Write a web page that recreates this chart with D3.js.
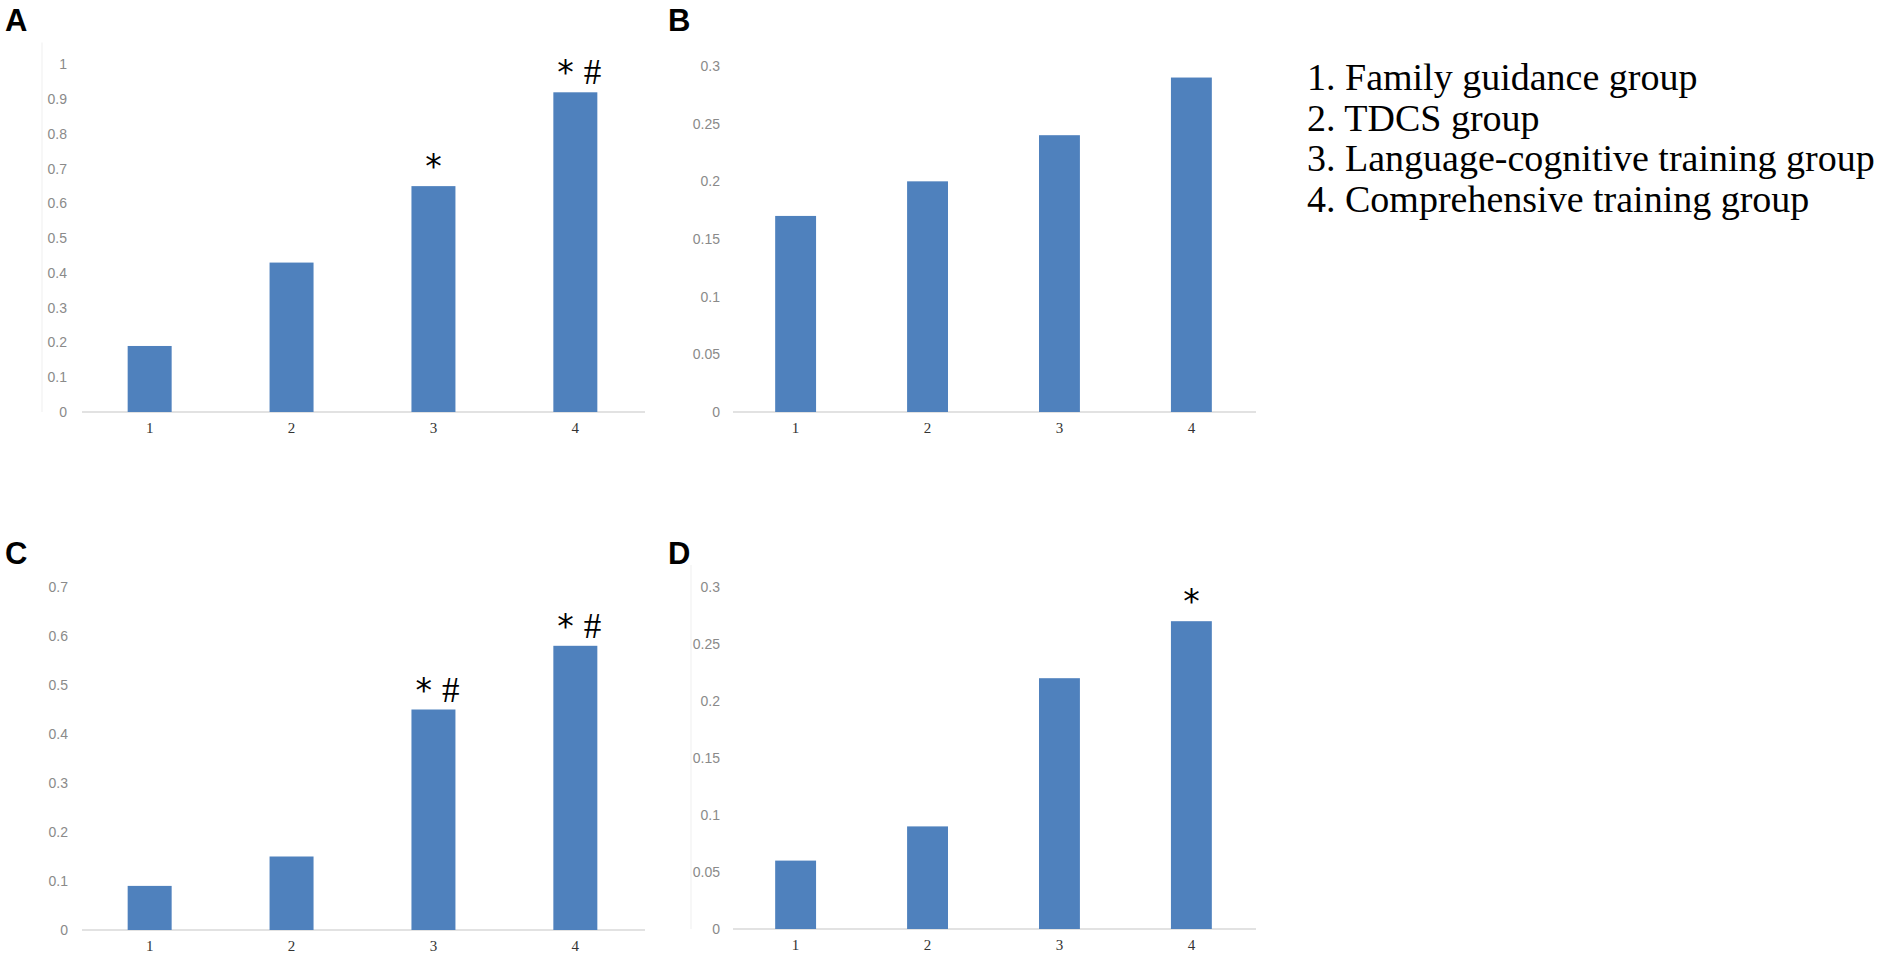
<!DOCTYPE html>
<html>
<head>
<meta charset="utf-8">
<script src="https://cdn.jsdelivr.net/npm/d3@7"></script>
<style>
  body { margin: 0; background: #fff; }
  svg { display: block; }
</style>
</head>
<body>
<script>
const WIDTH = 1902;
const HEIGHT = 959;

// data
const categories = ["1", "2", "3", "4"];
const valuesA = [0.19, 0.43, 0.65, 0.92];
const valuesB = [0.17, 0.20, 0.24, 0.29];
const valuesC = [0.09, 0.15, 0.45, 0.58];
const valuesD = [0.06, 0.09, 0.22, 0.27];
const ticksA = [0, 0.1, 0.2, 0.3, 0.4, 0.5, 0.6, 0.7, 0.8, 0.9, 1];
const ticksB = [0, 0.05, 0.1, 0.15, 0.2, 0.25, 0.3];
const ticksC = [0, 0.1, 0.2, 0.3, 0.4, 0.5, 0.6, 0.7];
const ticksD = [0, 0.05, 0.1, 0.15, 0.2, 0.25, 0.3];
const marksA = ["", "", "*", "* #"];
const marksB = ["", "", "", ""];
const marksC = ["", "", "* #", "* #"];
const marksD = ["", "", "", "*"];
const legendItems = [
    "1. Family guidance group",
    "2. TDCS group",
    "3. Language-cognitive training group",
    "4. Comprehensive training group"
];

const BAR_COLOR = "#4f81bd";

// panel layout
const panels = [
    { label: "A", values: valuesA, ticks: ticksA, marks: marksA, x0: 78, x1: 647, yTop: 64.5, yBase: 412, tickRight: 67, labelX: 5, labelY: 31, axisX: 42 },
    { label: "B", values: valuesB, ticks: ticksB, marks: marksB, x0: 729, x1: 1258, yTop: 66, yBase: 412, tickRight: 720, labelX: 668, labelY: 31, axisX: 0 },
    { label: "C", values: valuesC, ticks: ticksC, marks: marksC, x0: 78, x1: 647, yTop: 587, yBase: 930, tickRight: 68, labelX: 5, labelY: 564, axisX: 0 },
    { label: "D", values: valuesD, ticks: ticksD, marks: marksD, x0: 729, x1: 1258, yTop: 587, yBase: 929, tickRight: 720, labelX: 668, labelY: 564, axisX: 691 }
];

var canvas = d3.select("body")
    .append("svg")
    .attr("width", WIDTH)
    .attr("height", HEIGHT);

canvas.append("rect")
    .attr("width", WIDTH)
    .attr("height", HEIGHT)
    .attr("fill", "#fff");

panels.forEach(function (p) {
    const yMax = p.ticks[p.ticks.length - 1];
    const x = d3.scaleBand()
        .domain(categories)
        .range([p.x0, p.x1])
        .paddingInner(0.69)
        .paddingOuter(0.35);
    const y = d3.scaleLinear()
        .domain([0, yMax])
        .range([p.yBase, p.yTop]);

    const g = canvas.append("g");

    // panel letter
    g.append("text")
        .attr("x", p.labelX)
        .attr("y", p.labelY)
        .attr("font-family", "Liberation Sans, Arial, sans-serif")
        .attr("font-weight", "bold")
        .attr("font-size", 31)
        .attr("fill", "#000")
        .text(p.label);

    // faint vertical axis line
    if (p.axisX) {
        g.append("line")
            .attr("x1", p.axisX).attr("x2", p.axisX)
            .attr("y1", p.yTop - 22).attr("y2", p.yBase)
            .attr("stroke", "#efefef")
            .attr("stroke-width", 1);
    }

    // y axis labels
    const yAxis = d3.axisLeft(y)
        .tickValues(p.ticks)
        .tickSize(0)
        .tickPadding(0)
        .tickFormat(d3.format("~g"));
    const ya = g.append("g")
        .attr("transform", "translate(" + p.tickRight + ",0)")
        .call(yAxis);
    ya.select(".domain").remove();
    ya.selectAll("text")
        .attr("font-family", "Liberation Sans, Arial, sans-serif")
        .attr("font-size", 14)
        .attr("fill", "#8a8a8a");

    // baseline
    g.append("line")
        .attr("x1", p.x0 + 4).attr("x2", p.x1 - 2)
        .attr("y1", y(0)).attr("y2", y(0))
        .attr("stroke", "#d9d9d9")
        .attr("stroke-width", 1.5);

    // x axis labels
    const xAxis = d3.axisBottom(x).tickSize(0).tickPadding(10);
    const xa = g.append("g")
        .attr("transform", "translate(0," + y(0) + ")")
        .call(xAxis);
    xa.select(".domain").remove();
    xa.selectAll("text")
        .attr("font-family", "Liberation Serif, Times New Roman, serif")
        .attr("font-size", 15)
        .attr("fill", "#333");

    // bars
    g.selectAll(".bar")
        .data(p.values)
        .enter()
        .append("rect")
        .attr("class", "bar")
        .attr("x", (d, i) => x(categories[i]))
        .attr("y", d => y(d))
        .attr("width", x.bandwidth())
        .attr("height", d => y(0) - y(d))
        .attr("fill", BAR_COLOR);

    // significance marks
    p.marks.forEach(function (m, i) {
        if (!m) return;
        const cx = x(categories[i]) + x.bandwidth() / 2 + (m.length > 1 ? 4 : 0);
        const t = g.append("text")
            .attr("x", cx)
            .attr("y", y(p.values[i]) - 8)
            .attr("text-anchor", "middle")
            .attr("fill", "#000");
        m.split(" ").forEach(function (s, k) {
            const ts = t.append("tspan").text(s);
            if (k > 0) ts.attr("dx", 10);
            if (s === "*") {
                ts.attr("font-family", "DejaVu Sans, sans-serif")
                    .attr("font-size", 33);
            } else {
                ts.attr("font-family", "Liberation Serif, Times New Roman, serif")
                    .attr("font-size", 35);
            }
        });
    });
});

// legend
canvas.append("g")
    .selectAll("text")
    .data(legendItems)
    .enter()
    .append("text")
    .attr("x", 1307)
    .attr("y", (d, i) => 90 + i * 40.6)
    .attr("font-family", "Liberation Serif, Times New Roman, serif")
    .attr("font-size", 38)
    .attr("fill", "#000")
    .text(d => d);
</script>
</body>
</html>
